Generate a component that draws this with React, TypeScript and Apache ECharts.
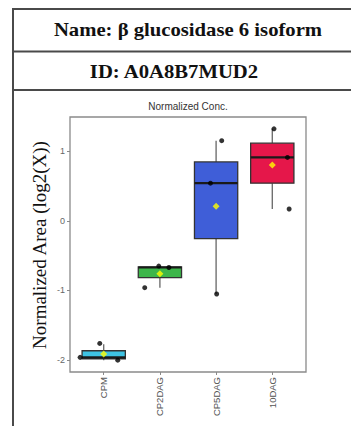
import React, { useEffect, useRef } from "react";
import * as echarts from "echarts";

const categories = ["CPM", "CP2DAG", "CP5DAG", "10DAG"];
const whiskerLow = [-2.0, -0.96, -1.05, 0.17];
const q1 = [-1.98, -0.815, -0.255, 0.54];
const median = [-1.96, -0.67, 0.54, 0.91];
const q3 = [-1.865, -0.66, 0.845, 1.115];
const whiskerHigh = [-1.77, -0.65, 1.15, 1.32];
const means = [-1.91, -0.76, 0.21, 0.8];
const pointValues = [
  [-1.76, -1.96, -2.0],
  [-0.65, -0.67, -0.96],
  [1.15, 0.54, -1.05],
  [1.32, 0.91, 0.17],
];
const pointJitter = [
  [-0.07, -0.42, 0.25],
  [-0.02, 0.16, -0.27],
  [0.1, -0.1, 0.01],
  [0.03, 0.27, 0.3],
];
const yTicks = [-2, -1, 0, 1];
const boxColors = ["#3EC3E3", "#3DB64A", "#3F5ED8", "#E5174A"];

const BOX_W = 0.77;

export default function App() {
  const ref = useRef<HTMLDivElement>(null);
  useEffect(() => {
    if (!ref.current) return;
    const chart = echarts.init(ref.current, null, { renderer: "svg" });
    const boxData = categories.map((_, i) => [
      i + 1,
      whiskerLow[i],
      q1[i],
      median[i],
      q3[i],
      whiskerHigh[i],
    ]);
    const pts: number[][] = [];
    pointValues.forEach((vals, i) =>
      vals.forEach((v, j) => pts.push([i + 1 + pointJitter[i][j], v]))
    );
    const meanData = means.map((m, i) => [i + 1, m]);

    const lineColor = "#4a4a4a";
    chart.setOption({
      animation: false,
      grid: {
        left: 70,
        top: 117,
        width: 236,
        height: 255,
        show: true,
        borderColor: "#8a8a8a",
        borderWidth: 1.3,
        backgroundColor: "#fff",
      },
      xAxis: {
        type: "value",
        min: 0.4,
        max: 4.6,
        axisLine: { show: false, onZero: false },
        splitLine: { show: false },
        axisTick: {
          show: true,
          customValues: [1, 2, 3, 4],
          length: 3,
          lineStyle: { color: "#8a8a8a", width: 1 },
        },
        axisLabel: {
          customValues: [1, 2, 3, 4],
          rotate: 90,
          margin: 5,
          fontSize: 9.5,
          fontFamily: "Liberation Sans, Arial, sans-serif",
          color: "#555",
          formatter: (v: number) => categories[Math.round(v) - 1] ?? "",
        },
      },
      yAxis: {
        type: "value",
        min: -2.17,
        max: 1.49,
        axisLine: { show: false, onZero: false },
        splitLine: { show: false },
        axisTick: {
          show: true,
          customValues: yTicks,
          length: 3,
          lineStyle: { color: "#8a8a8a", width: 1 },
        },
        axisLabel: {
          customValues: yTicks,
          margin: 5,
          fontSize: 9,
          fontFamily: "Liberation Sans, Arial, sans-serif",
          color: "#666",
        },
      },
      graphic: [
        {
          type: "line",
          shape: { x1: 13, y1: 8, x2: 13, y2: 426 },
          style: { stroke: lineColor, lineWidth: 2 },
        },
        {
          type: "line",
          shape: { x1: 12, y1: 9, x2: 351, y2: 9 },
          style: { stroke: lineColor, lineWidth: 2 },
        },
        {
          type: "line",
          shape: { x1: 13, y1: 51.5, x2: 351, y2: 51.5 },
          style: { stroke: lineColor, lineWidth: 2 },
        },
        {
          type: "line",
          shape: { x1: 13, y1: 90, x2: 351, y2: 90 },
          style: { stroke: lineColor, lineWidth: 2 },
        },
        {
          type: "text",
          x: 188,
          y: 30,
          scaleX: 1.15,
          style: {
            text: "Name: β glucosidase 6 isoform",
            font: "bold 18px 'Liberation Serif', 'Times New Roman', serif",
            fill: "#111",
            align: "center",
            verticalAlign: "middle",
          },
        },
        {
          type: "text",
          x: 174,
          y: 72,
          scaleX: 1.15,
          style: {
            text: "ID: A0A8B7MUD2",
            font: "bold 18px 'Liberation Serif', 'Times New Roman', serif",
            fill: "#111",
            align: "center",
            verticalAlign: "middle",
          },
        },
        {
          type: "text",
          x: 188,
          y: 106,
          style: {
            text: "Normalized Conc.",
            font: "10px 'Liberation Sans', Arial, sans-serif",
            fill: "#333",
            align: "center",
            verticalAlign: "middle",
          },
        },
        {
          type: "text",
          x: 39,
          y: 245,
          rotation: Math.PI / 2,
          style: {
            text: "Normalized Area (log2(X))",
            font: "19px 'Liberation Serif', 'Times New Roman', serif",
            fill: "#111",
            align: "center",
            verticalAlign: "middle",
          },
        },
      ],
      series: [
        {
          type: "custom",
          data: boxData,
          encode: { x: 0, y: [1, 2, 3, 4, 5] },
          renderItem: (params: any, api: any) => {
            const x = api.value(0);
            const lo = api.value(1);
            const b1 = api.value(2);
            const md = api.value(3);
            const b3 = api.value(4);
            const hi = api.value(5);
            const pLo = api.coord([x, lo]);
            const pQ1 = api.coord([x, b1]);
            const pQ3 = api.coord([x, b3]);
            const pHi = api.coord([x, hi]);
            const tl = api.coord([x - BOX_W / 2, b3]);
            const br = api.coord([x + BOX_W / 2, b1]);
            const mL = api.coord([x - BOX_W / 2, md]);
            const mR = api.coord([x + BOX_W / 2, md]);
            return {
              type: "group",
              children: [
                {
                  type: "line",
                  shape: { x1: pLo[0], y1: pLo[1], x2: pQ1[0], y2: pQ1[1] },
                  style: { stroke: "#666", lineWidth: 1.3 },
                },
                {
                  type: "line",
                  shape: { x1: pQ3[0], y1: pQ3[1], x2: pHi[0], y2: pHi[1] },
                  style: { stroke: "#666", lineWidth: 1.3 },
                },
                {
                  type: "rect",
                  shape: {
                    x: tl[0],
                    y: tl[1],
                    width: br[0] - tl[0],
                    height: br[1] - tl[1],
                  },
                  style: {
                    fill: boxColors[params.dataIndex],
                    stroke: "#333",
                    lineWidth: 1.3,
                  },
                },
                {
                  type: "line",
                  shape: { x1: mL[0], y1: mL[1], x2: mR[0], y2: mR[1] },
                  style: { stroke: "#1a1a1a", lineWidth: 2.2 },
                },
              ],
            };
          },
          z: 2,
        },
        {
          type: "scatter",
          data: pts,
          symbol: "circle",
          symbolSize: 5,
          itemStyle: { color: "#000" },
          z: 3,
        },
        {
          type: "scatter",
          data: meanData,
          symbol: "diamond",
          symbolSize: 7,
          itemStyle: { color: "#FFFF00" },
          z: 4,
        },
      ],
    });
    return () => chart.dispose();
  }, []);
  return (
    <div
      ref={ref}
      style={{ position: "fixed", left: 0, top: 0, width: 351, height: 426, background: "#fff" }}
    />
  );
}
